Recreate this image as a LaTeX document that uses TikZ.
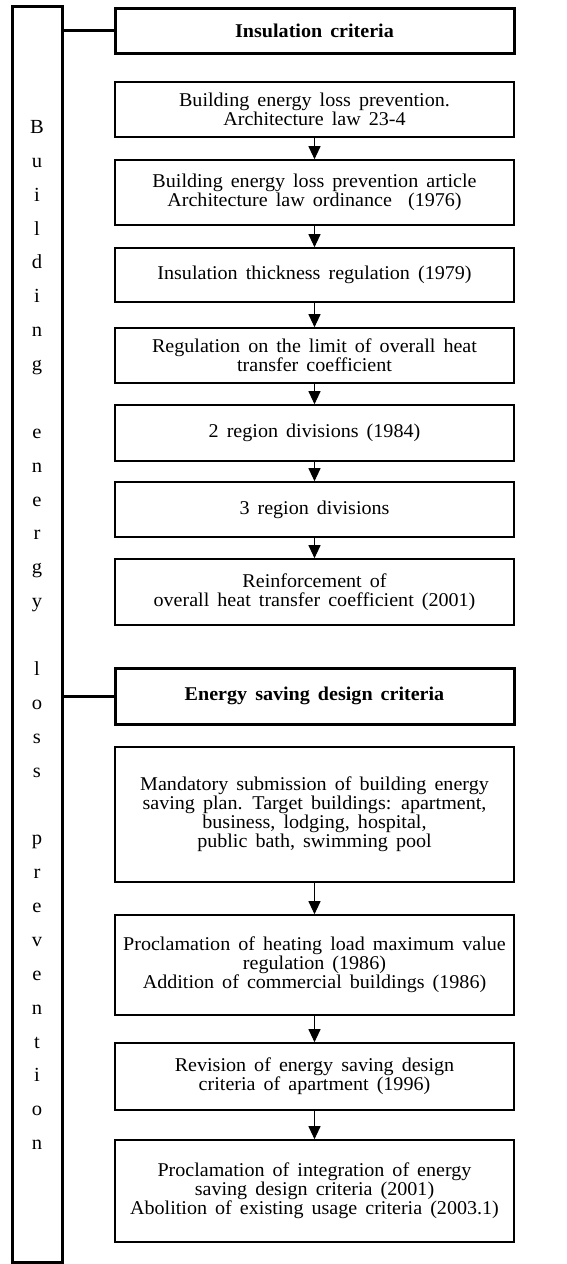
\documentclass[tikz,border=0pt]{standalone}
\usepackage{fontspec}
\setmainfont{Liberation Serif}[WordSpace=1.6, FakeStretch=1.03]
\usetikzlibrary{arrows.meta}
\begin{document}
\begin{tikzpicture}[x=1pt,y=-1pt,
  box/.style={draw, line width=1.6pt, minimum width=399pt, align=center,
    font=\fontsize{19.5}{19}\selectfont, inner sep=0pt},
  hdr/.style={box, line width=3pt, font=\fontsize{19.5}{19}\selectfont\bfseries},
  arr/.style={-{Triangle[length=13pt,width=12pt]}, line width=1pt},
  lnk/.style={line width=3pt},
  col/.style={draw, line width=3pt, minimum width=50pt, inner sep=0pt},
  vtext/.style={align=center, font=\fontsize{20}{33.87}\selectfont, inner sep=0pt}]
\useasboundingbox (0,0) rectangle (567,1264);

\node[col, minimum height=1256pt] (col) at (37,634) {};
\node[vtext] (word) at (37,635) {B\\u\\i\\l\\d\\i\\n\\g\\[33.87pt]e\\n\\e\\r\\g\\y\\[33.87pt]l\\o\\s\\s\\[33.87pt]p\\r\\e\\v\\e\\n\\t\\i\\o\\n};

\node[hdr, minimum height=45pt] (h1) at (314.5,30.5) {Insulation criteria};
\node[box, minimum height=55pt] (b1) at (314.5,109.5) {Building energy loss prevention.\\Architecture law 23-4};
\node[box, minimum height=65pt] (b2) at (314.5,192.5) {Building energy loss prevention article\\Architecture law ordinance\ \ (1976)};
\node[box, minimum height=54pt] (b3) at (314.5,275) {Insulation thickness regulation (1979)};
\node[box, minimum height=55pt] (b4) at (314.5,355.5) {Regulation on the limit of overall heat\\transfer coefficient};
\node[box, minimum height=56pt] (b5) at (314.5,433) {2 region divisions (1984)};
\node[box, minimum height=55pt] (b6) at (314.5,509.5) {3 region divisions};
\node[box, minimum height=66pt] (b7) at (314.5,592) {Reinforcement of\\overall heat transfer coefficient (2001)};

\node[hdr, minimum height=56pt] (h2) at (314.5,696) {Energy saving design criteria};
\node[box, minimum height=135pt] (b8) at (314.5,814.5) {Mandatory submission of building energy\\saving plan. Target buildings: apartment,\\business, lodging, hospital,\\public bath, swimming pool};
\node[box, minimum height=100pt] (b9) at (314.5,965) {Proclamation of heating load maximum value\\regulation (1986)\\Addition of commercial buildings (1986)};
\node[box, minimum height=67pt] (b10) at (314.5,1076.5) {Revision of energy saving design\\criteria of apartment (1996)};
\node[box, minimum height=102pt] (b11) at (314.5,1191) {Proclamation of integration of energy\\saving design criteria (2001)\\Abolition of existing usage criteria (2003.1)};

\draw[lnk] (col.east |- h1.west) -- (h1.west);
\draw[lnk] (col.east |- h2.west) -- (h2.west);

\draw[arr] (b1) -- (b2);
\draw[arr] (b2) -- (b3);
\draw[arr] (b3) -- (b4);
\draw[arr] (b4) -- (b5);
\draw[arr] (b5) -- (b6);
\draw[arr] (b6) -- (b7);
\draw[arr] (b8) -- (b9);
\draw[arr] (b9) -- (b10);
\draw[arr] (b10) -- (b11);
\end{tikzpicture}
\end{document}
